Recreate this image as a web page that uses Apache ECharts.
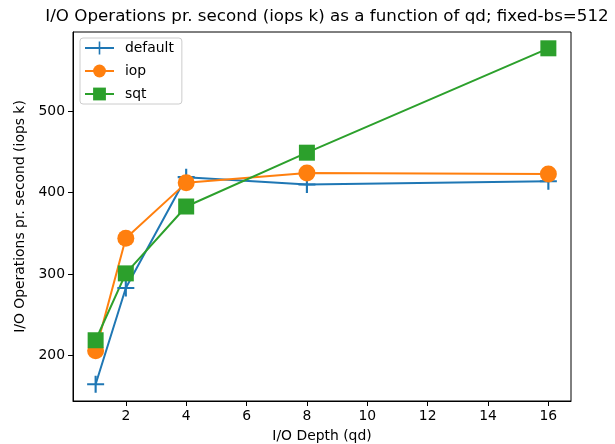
<!DOCTYPE html>
<html>
<head>
<meta charset="utf-8">
<script src="https://cdn.jsdelivr.net/npm/echarts@6/dist/echarts.min.js"></script>
<style>html,body{margin:0;padding:0;background:#fff}#c{width:615px;height:444px}</style>
</head>
<body>
<div id="c"></div>
<script>
const qd = [1, 2, 4, 8, 16];
const defaultIops = [165, 283, 419, 410, 414];
const iopIops = [206, 344, 412, 424, 423];
const sqtIops = [219, 301, 383, 449, 577];
const xTicks = [2, 4, 6, 8, 10, 12, 14, 16];
const yTicks = [200, 300, 400, 500];

const FONT = 'DejaVu Sans';
const plusPath = 'path://M7,0 H9 V7 H16 V9 H9 V16 H7 V9 H0 V7 H7 Z';

function pairs(ys) { return qd.map((x, i) => [x, ys[i]]); }

const chart = echarts.init(document.getElementById('c'), null, {renderer: 'canvas'});
chart.setOption({
  animation: false,
  backgroundColor: '#fff',
  title: {
    text: 'I/O Operations pr. second (iops k) as a function of qd; fixed-bs=512',
    left: 322, top: 3, textAlign: 'center',
    textStyle: {fontFamily: FONT, fontSize: 16.7, fontWeight: 'normal', color: '#000'}
  },
  legend: {
    left: 80, top: 38, orient: 'vertical',
    itemWidth: 29, itemHeight: 16, itemGap: 9,
    padding: [3, 8, 3, 4],
    borderColor: '#cccccc', borderWidth: 1, borderRadius: 3,
    backgroundColor: 'rgba(255,255,255,0.8)',
    textStyle: {fontFamily: FONT, fontSize: 13.9, color: '#000', padding: [0, 0, 0, 6]},
    data: ['default', 'iop', 'sqt']
  },
  grid: {left: 73, right: 44, top: 32, bottom: 43, outerBoundsMode: 'none', containLabel: false,
    show: true, borderColor: '#000', borderWidth: 1, backgroundColor: 'transparent'},
  xAxis: {
    type: 'value', min: 0.25, max: 16.75,
    name: 'I/O Depth (qd)', nameLocation: 'middle', nameGap: 28,
    nameTextStyle: {fontFamily: FONT, fontSize: 13.9, color: '#000'},
    axisLine: {show: true, lineStyle: {color: '#000', width: 1}},
    axisTick: {show: true, length: 5, lineStyle: {color: '#000'}, customValues: xTicks},
    axisLabel: {fontFamily: FONT, fontSize: 13.9, color: '#000', margin: 8, customValues: xTicks},
    splitLine: {show: false}
  },
  yAxis: {
    type: 'value', min: 144.5, max: 597,
    name: 'I/O Operations pr. second (iops k)', nameLocation: 'middle', nameGap: 36, nameRotate: 90,
    nameTextStyle: {fontFamily: FONT, fontSize: 13.9, color: '#000'},
    axisLine: {show: true, lineStyle: {color: '#000', width: 1}},
    axisTick: {show: true, length: 5, lineStyle: {color: '#000'}, customValues: yTicks},
    axisLabel: {fontFamily: FONT, fontSize: 13.9, color: '#000', margin: 8, customValues: yTicks},
    splitLine: {show: false}
  },
  series: [
    {
      name: 'default', type: 'line', data: pairs(defaultIops),
      symbol: plusPath, symbolSize: 17,
      lineStyle: {color: '#1f77b4', width: 2},
      itemStyle: {color: '#1f77b4'}
    },
    {
      name: 'iop', type: 'line', data: pairs(iopIops),
      symbol: 'circle', symbolSize: 17,
      lineStyle: {color: '#ff7f0e', width: 2},
      itemStyle: {color: '#ff7f0e'}
    },
    {
      name: 'sqt', type: 'line', data: pairs(sqtIops),
      symbol: 'rect', symbolSize: 16,
      lineStyle: {color: '#2ca02c', width: 2},
      itemStyle: {color: '#2ca02c'}
    }
  ]
});
</script>
</body>
</html>
